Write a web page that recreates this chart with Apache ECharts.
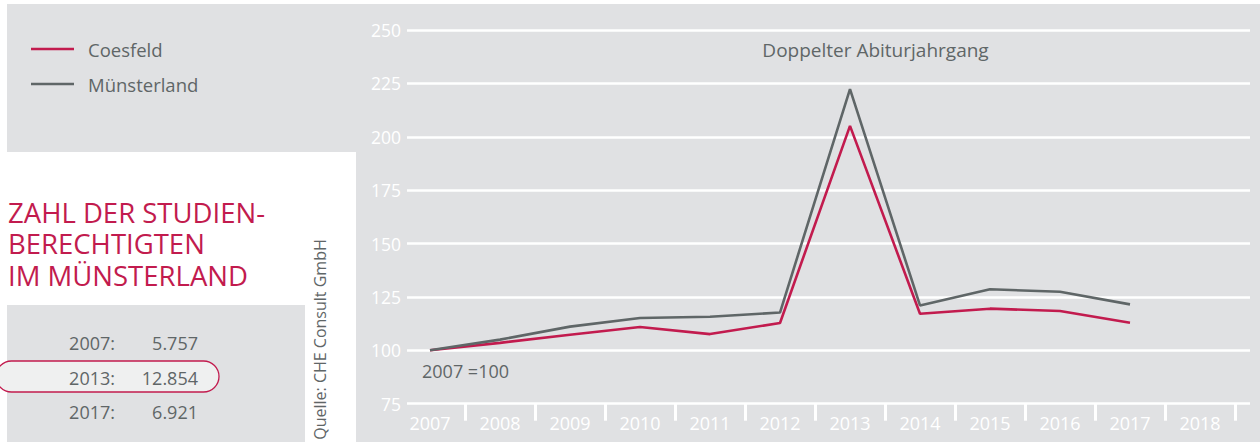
<!DOCTYPE html>
<html>
<head>
<meta charset="utf-8">
<script src="https://cdn.jsdelivr.net/npm/echarts@6/dist/echarts.min.js"></script>
<style>
html,body{margin:0;padding:0;background:#fff;}
#c{width:1260px;height:442px;}
</style>
</head>
<body>
<div id="c"></div>
<script>
const categories = ['2007','2008','2009','2010','2011','2012','2013','2014','2015','2016','2017','2018'];
const coesfeld    = [100, 103.5, 107.3, 110.9, 107.6, 112.8, 205.1, 117.1, 119.5, 118.4, 112.9, null];
const muensterland = [100, 105.0, 111.1, 115.1, 115.7, 117.7, 222.3, 121.0, 128.6, 127.4, 121.5, null];
const seriesNames = ['Coesfeld', 'Münsterland'];
const yTicks = { min: 75, max: 250, interval: 25 };
const titleLines = ['ZAHL DER STUDIEN-', 'BERECHTIGTEN', 'IM MÜNSTERLAND'];
const tableYears = ['2007:', '2013:', '2017:'];
const tableValues = ['5.757', '12.854', '6.921'];
const annotation = 'Doppelter Abiturjahrgang';
const baseNote = '2007 =100';
const sourceNote = 'Quelle: CHE Consult GmbH';

const RED = '#c21b4e';
const GRAY = '#5f6667';
const BG = '#e0e1e3';
const FONT = '"Open Sans", "Noto Sans", sans-serif';

const chart = echarts.init(document.getElementById('c'), null, {renderer: 'svg'});

const graphics = [
  // white areas
  {type:'rect', shape:{x:0,y:0,width:1260,height:4}, style:{fill:'#fff'}, z:1},
  {type:'rect', shape:{x:0,y:0,width:7,height:442}, style:{fill:'#fff'}, z:1},
  {type:'rect', shape:{x:7,y:152,width:349,height:153}, style:{fill:'#fff'}, z:1},
  {type:'rect', shape:{x:305,y:152,width:51,height:290}, style:{fill:'#fff'}, z:1},
  // highlight pill
  {type:'rect', shape:{x:-4,y:361,width:223,height:31,r:15.5}, style:{fill:'#eff0f0', stroke:RED, lineWidth:1.3}, z:2},
  // source (rotated)
  {type:'text', x:320, y:339.5, rotation:Math.PI/2, z:5,
   style:{text:sourceNote, fill:GRAY, font:'16px ' + FONT, align:'center', verticalAlign:'middle'}},
  // annotations
  {type:'text', x:875.5, y:50, z:5, style:{text:annotation, fill:GRAY, font:'19px ' + FONT, align:'center', verticalAlign:'middle'}},
  {type:'text', x:422, y:371, z:5, style:{text:baseNote, fill:GRAY, font:'18px ' + FONT, align:'left', verticalAlign:'middle'}}
];
const titleY = [212, 243.5, 275];
titleLines.forEach(function(t, i){
  graphics.push({type:'text', x:8, y:titleY[i], z:5, style:{text:t, fill:RED, fontSize:27.5, fontFamily:FONT, lineHeight:29, align:'left', verticalAlign:'middle'}});
});
const rowY = [343, 378, 412];
tableYears.forEach(function(t, i){
  graphics.push({type:'text', x:115, y:rowY[i], z:5, style:{text:t, fill:GRAY, font:'18px ' + FONT, align:'right', verticalAlign:'middle'}});
  graphics.push({type:'text', x:198, y:rowY[i], z:5, style:{text:tableValues[i], fill:GRAY, font:'18px ' + FONT, align:'right', verticalAlign:'middle'}});
});

chart.setOption({
  backgroundColor: BG,
  animation: false,
  textStyle: {fontFamily: FONT},
  legend: {
    orient: 'vertical', left: 26, top: 34, itemGap: 15,
    icon: 'rect', itemWidth: 43, itemHeight: 2.5,
    data: seriesNames,
    textStyle: {color: GRAY, fontSize: 18.5, fontFamily: FONT, lineHeight: 20, padding: [0,0,0,9]}
  },
  grid: [
    {left: 407, right: 10, top: 30, bottom: 38.3},
    {left: 395, right: 25, top: 30, bottom: 38.3}
  ],
  xAxis: [
    {gridIndex: 0, type: 'value', show: false, min: 0, max: 1},
    {gridIndex: 1, type: 'category', data: categories, boundaryGap: true,
     axisLine: {show: false},
     axisTick: {show: true, length: 17, interval: function(i){ return i > 0; }, lineStyle: {color: '#fff', width: 3}},
     axisLabel: {interval: 0, color: '#fff', fontSize: 18, fontFamily: FONT, margin: 10},
     splitLine: {show: false}}
  ],
  yAxis: [
    {gridIndex: 0, type: 'value', min: yTicks.min, max: yTicks.max, interval: yTicks.interval,
     axisLine: {show: false}, axisTick: {show: false},
     axisLabel: {color: '#fff', fontSize: 17.5, fontFamily: FONT, margin: 6},
     splitLine: {show: true, lineStyle: {color: '#fff', width: 2.5}}},
    {gridIndex: 1, type: 'value', min: yTicks.min, max: yTicks.max, interval: yTicks.interval, show: false,
     splitLine: {show: false}}
  ],
  series: [
    {name: seriesNames[0], type: 'line', xAxisIndex: 1, yAxisIndex: 1, data: coesfeld,
     symbol: 'none', color: RED, lineStyle: {color: RED, width: 2.6}, z: 3},
    {name: seriesNames[1], type: 'line', xAxisIndex: 1, yAxisIndex: 1, data: muensterland,
     symbol: 'none', color: GRAY, lineStyle: {color: GRAY, width: 2.6}, z: 4}
  ],
  graphic: graphics
});
</script>
</body>
</html>
